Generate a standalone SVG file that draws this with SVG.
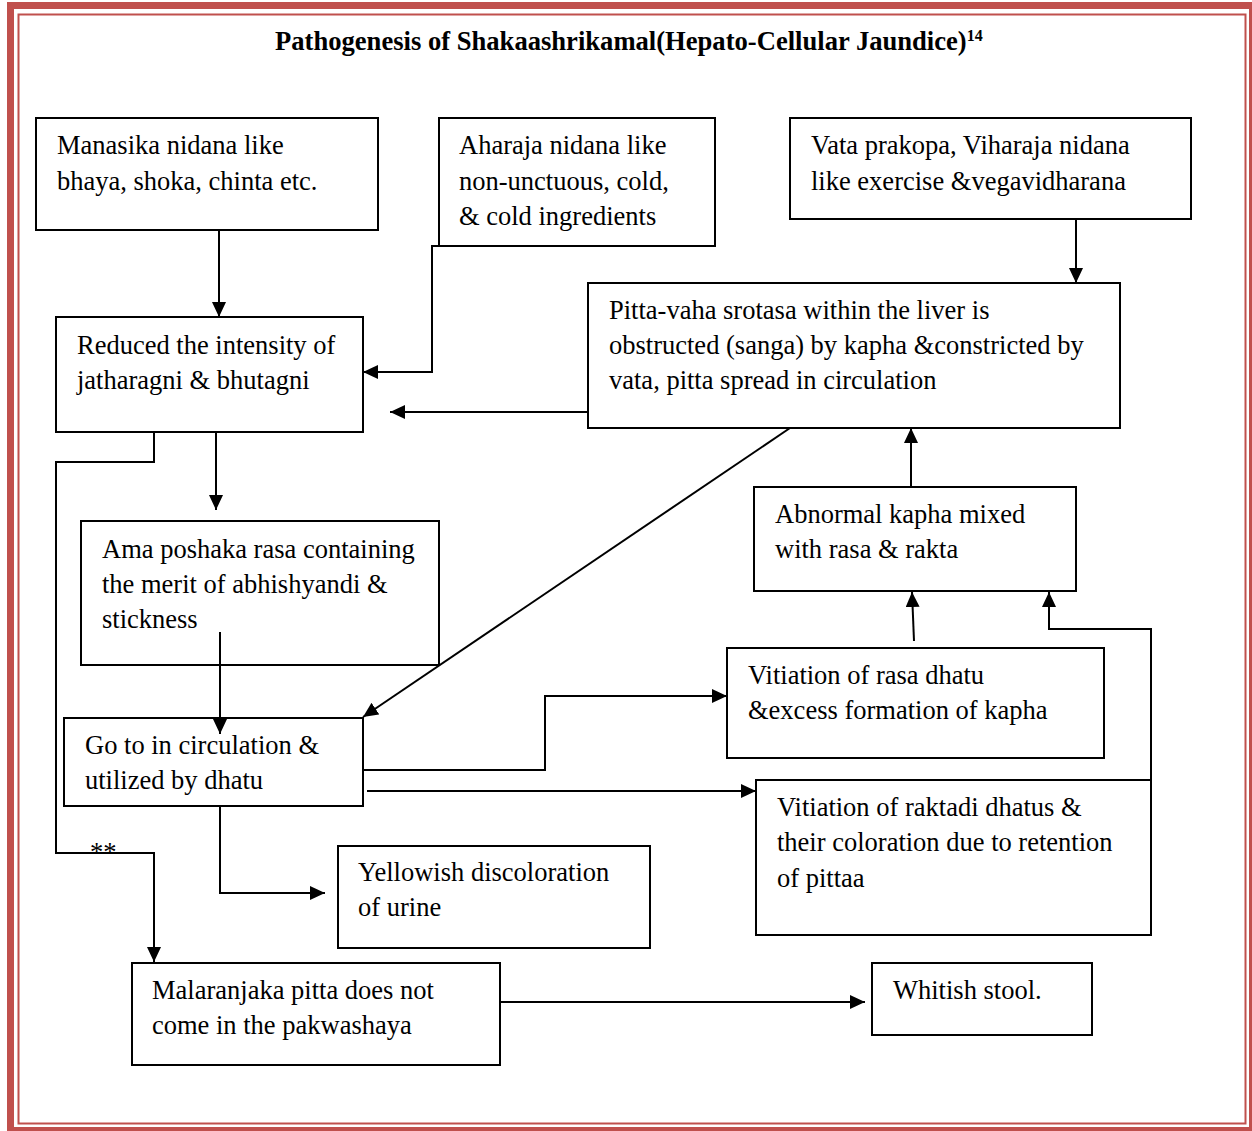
<svg xmlns="http://www.w3.org/2000/svg" width="1252" height="1131" viewBox="0 0 1252 1131">
<style>
.box{fill:none;stroke:#000;stroke-width:2}
.t{font-family:"Liberation Serif","Times New Roman",serif;font-size:26.5px;fill:#000}
.title{font-family:"Liberation Serif","Times New Roman",serif;font-weight:bold;fill:#000}
.c{fill:none;stroke:#000;stroke-width:2}
.a{marker-end:url(#arr)}
</style>
<defs>
<marker id="arr" markerUnits="userSpaceOnUse" markerWidth="15" markerHeight="14" refX="15" refY="7" orient="auto">
<path d="M0,0 L15,7 L0,14 z" fill="#000"/>
</marker>
</defs>
<rect width="1252" height="1131" fill="#fff"/>
<g id="frame">
<rect x="10.5" y="5.5" width="1242" height="1125" fill="none" stroke="#c0504d" stroke-width="7"/>
<rect x="18.5" y="14.5" width="1227" height="1109" fill="none" stroke="#c0504d" stroke-width="2"/>
</g>
<g id="title">
<text class="title" x="275" y="50" font-size="26.6">Pathogenesis of Shakaashrikamal(Hepato-Cellular Jaundice)<tspan font-size="16" dy="-9">14</tspan></text>
</g>
<g id="manasika">
<rect class="box" x="36" y="118" width="342" height="112"/>
<text class="t" x="57" y="154">Manasika nidana like</text>
<text class="t" x="57" y="190">bhaya, shoka, chinta etc.</text>
</g>
<g id="aharaja">
<rect class="box" x="439" y="118" width="276" height="128"/>
<text class="t" x="459" y="154">Aharaja nidana like</text>
<text class="t" x="459" y="190">non-unctuous, cold,</text>
<text class="t" x="459" y="225">&amp; cold ingredients</text>
</g>
<g id="vata">
<rect class="box" x="790" y="118" width="401" height="101"/>
<text class="t" x="811" y="154">Vata prakopa, Viharaja nidana</text>
<text class="t" x="811" y="190">like exercise &amp;vegavidharana</text>
</g>
<g id="reduced">
<rect class="box" x="56" y="317" width="307" height="115"/>
<text class="t" x="77" y="354">Reduced the intensity of</text>
<text class="t" x="77" y="389">jatharagni &amp; bhutagni</text>
</g>
<g id="pittavaha">
<rect class="box" x="588" y="283" width="532" height="145"/>
<text class="t" x="609" y="319">Pitta-vaha srotasa within the liver is</text>
<text class="t" x="609" y="354">obstructed (sanga) by kapha &amp;constricted by</text>
<text class="t" x="609" y="389">vata, pitta spread in circulation</text>
</g>
<g id="abnormal">
<rect class="box" x="754" y="487" width="322" height="104"/>
<text class="t" x="775" y="523">Abnormal kapha mixed</text>
<text class="t" x="775" y="558">with rasa &amp; rakta</text>
</g>
<g id="ama">
<rect class="box" x="81" y="521" width="358" height="144"/>
<text class="t" x="102" y="558">Ama poshaka rasa containing</text>
<text class="t" x="102" y="593">the merit of abhishyandi &amp;</text>
<text class="t" x="102" y="628">stickness</text>
</g>
<g id="goto">
<rect class="box" x="64" y="718" width="299" height="88"/>
<text class="t" x="85" y="754">Go to in circulation &amp;</text>
<text class="t" x="85" y="789">utilized by dhatu</text>
</g>
<g id="rasa">
<rect class="box" x="727" y="648" width="377" height="110"/>
<text class="t" x="748" y="684">Vitiation of rasa dhatu</text>
<text class="t" x="748" y="719">&amp;excess formation of kapha</text>
</g>
<g id="raktadi">
<rect class="box" x="756" y="780" width="395" height="155"/>
<text class="t" x="777" y="816">Vitiation of raktadi dhatus &amp;</text>
<text class="t" x="777" y="851">their coloration due to retention</text>
<text class="t" x="777" y="887">of pittaa</text>
</g>
<g id="yellowish">
<rect class="box" x="338" y="846" width="312" height="102"/>
<text class="t" x="358" y="881">Yellowish discoloration</text>
<text class="t" x="358" y="916">of urine</text>
</g>
<g id="malaranjaka">
<rect class="box" x="132" y="963" width="368" height="102"/>
<text class="t" x="152" y="999">Malaranjaka pitta does not</text>
<text class="t" x="152" y="1034">come in the pakwashaya</text>
</g>
<g id="whitish">
<rect class="box" x="872" y="963" width="220" height="72"/>
<text class="t" x="893" y="999">Whitish stool.</text>
</g>
<g id="connectors">
<line class="c a" x1="219" y1="230" x2="219" y2="317"/>
<path class="c a" d="M439,246 H432 V372 H363"/>
<line class="c a" x1="588" y1="412" x2="390" y2="412"/>
<line class="c a" x1="1076" y1="219" x2="1076" y2="283"/>
<line class="c a" x1="216" y1="432" x2="216" y2="510"/>
<path class="c a" d="M154,432 V462 H56 V853 H154 V962"/>
<line class="c a" x1="220" y1="632" x2="220" y2="734"/>
<line class="c a" x1="790" y1="428" x2="363" y2="717"/>
<path class="c a" d="M363,770 H545 V696 H727"/>
<line class="c a" x1="367" y1="791" x2="756" y2="791"/>
<path class="c a" d="M220,806 V893 H325"/>
<line class="c a" x1="500" y1="1002" x2="865" y2="1002"/>
<line class="c a" x1="914" y1="641" x2="912" y2="592"/>
<line class="c a" x1="911" y1="487" x2="911" y2="428"/>
<path class="c a" d="M1151,830 V629 H1049 V592"/>
<text class="t" x="90" y="861">**</text>
</g>
</svg>
